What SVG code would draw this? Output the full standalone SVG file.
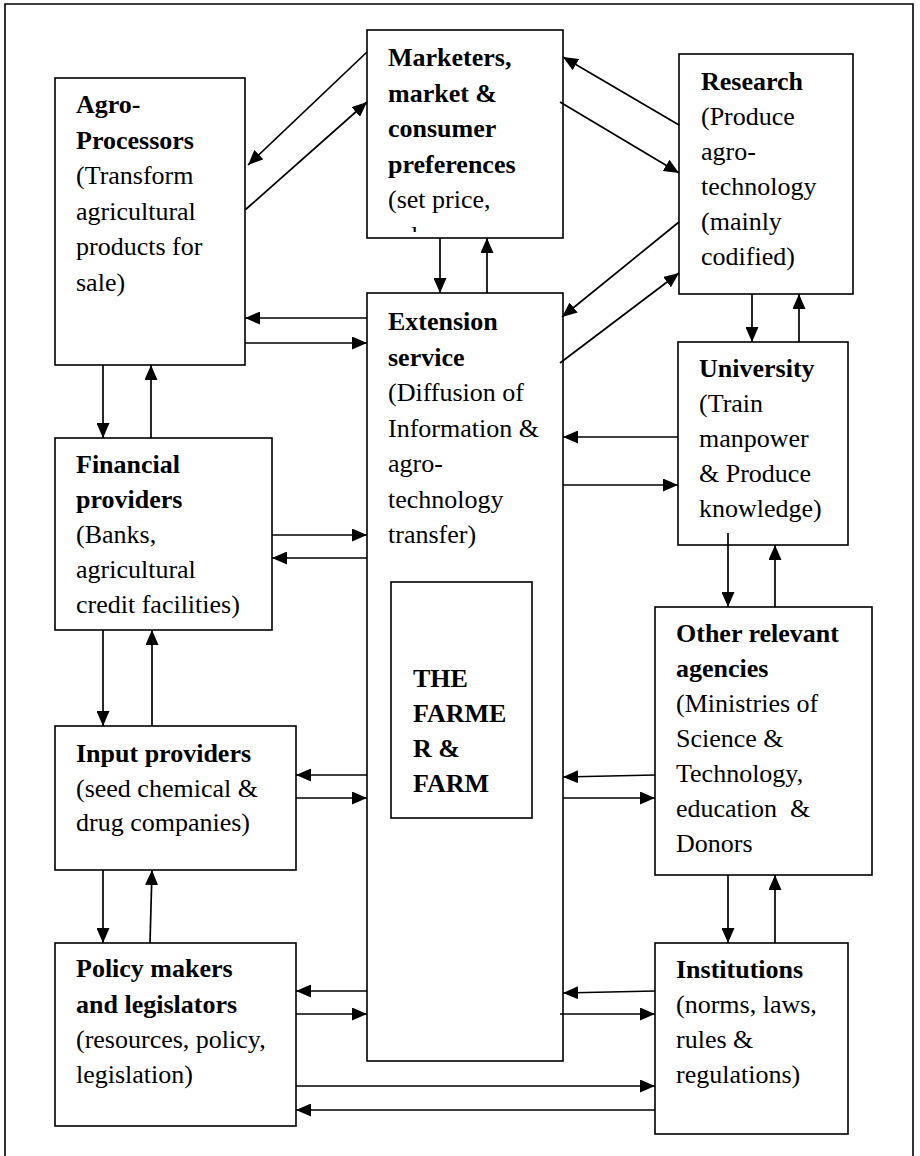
<svg xmlns="http://www.w3.org/2000/svg" width="920" height="1156" viewBox="0 0 920 1156">
<style>
.box{fill:#fff;stroke:#000;stroke-width:1.6}
.t{font-family:"Liberation Serif","Times New Roman",serif;font-size:26px;fill:#000}
.b{font-weight:bold}
.c{stroke:#000;stroke-width:1.7;fill:none;marker-end:url(#ah)}
.frame{stroke:#000;stroke-width:1.6;fill:none}
</style>
<defs>
<marker id="ah" viewBox="0 0 15 13" refX="15" refY="6.5" markerWidth="15" markerHeight="13" markerUnits="userSpaceOnUse" orient="auto">
<path d="M0,0 L15,6.5 L0,13 z" fill="#000"/>
</marker>
<clipPath id="mkclip"><rect x="368" y="31" width="194" height="201"/></clipPath>
</defs>
<rect width="920" height="1156" fill="#fff"/>
<path class="frame" d="M5,1160 V4 H913 V1160"/>

<g id="marketers">
<rect class="box" x="367" y="30" width="196" height="208"/>
<g clip-path="url(#mkclip)">
<text class="t" x="388"><tspan class="b" x="388" y="66">Marketers,</tspan><tspan class="b" x="388" y="101.5">market &amp;</tspan><tspan class="b" x="388" y="137">consumer</tspan><tspan class="b" x="388" y="172.5">preferences</tspan><tspan x="388" y="208">(set price,</tspan><tspan x="380" y="243.5">and</tspan></text>
</g>
</g>

<g id="agro">
<rect class="box" x="55" y="78" width="190" height="287"/>
<text class="t" x="76"><tspan class="b" x="76" y="113">Agro-</tspan><tspan class="b" x="76" y="148.5">Processors</tspan><tspan x="76" y="184">(Transform</tspan><tspan x="76" y="219.5">agricultural</tspan><tspan x="76" y="255">products for</tspan><tspan x="76" y="290.5">sale)</tspan></text>
</g>

<g id="research">
<rect class="box" x="679" y="54" width="174" height="240"/>
<text class="t" x="701"><tspan class="b" x="701" y="90">Research</tspan><tspan x="701" y="125">(Produce</tspan><tspan x="701" y="160">agro-</tspan><tspan x="701" y="195">technology</tspan><tspan x="701" y="230">(mainly</tspan><tspan x="701" y="265">codified)</tspan></text>
</g>

<g id="extension">
<rect class="box" x="367" y="293" width="196" height="768"/>
<text class="t" x="388"><tspan class="b" x="388" y="330">Extension</tspan><tspan class="b" x="388" y="365.5">service</tspan><tspan x="388" y="401">(Diffusion of</tspan><tspan x="388" y="436.5">Information &amp;</tspan><tspan x="388" y="472">agro-</tspan><tspan x="388" y="507.5">technology</tspan><tspan x="388" y="543">transfer)</tspan></text>
</g>

<g id="farmer">
<rect class="box" x="391" y="582" width="141" height="236"/>
<text class="t b" x="413"><tspan x="413" y="687">THE</tspan><tspan x="413" y="722">FARME</tspan><tspan x="413" y="757">R &amp;</tspan><tspan x="413" y="792">FARM</tspan></text>
</g>

<g id="university">
<rect class="box" x="678" y="342" width="170" height="203"/>
<text class="t" x="699"><tspan class="b" x="699" y="377">University</tspan><tspan x="699" y="412">(Train</tspan><tspan x="699" y="447">manpower</tspan><tspan x="699" y="482">&amp; Produce</tspan><tspan x="699" y="517">knowledge)</tspan></text>
</g>

<g id="financial">
<rect class="box" x="55" y="438" width="217" height="192"/>
<text class="t" x="76"><tspan class="b" x="76" y="473">Financial</tspan><tspan class="b" x="76" y="508">providers</tspan><tspan x="76" y="543">(Banks,</tspan><tspan x="76" y="578">agricultural</tspan><tspan x="76" y="613">credit facilities)</tspan></text>
</g>

<g id="input">
<rect class="box" x="55" y="726" width="241" height="144"/>
<text class="t" x="76"><tspan class="b" x="76" y="762">Input providers</tspan><tspan x="76" y="797">(seed chemical &amp;</tspan><tspan x="76" y="831">drug companies)</tspan></text>
</g>

<g id="policy">
<rect class="box" x="55" y="943" width="241" height="183"/>
<text class="t" x="76"><tspan class="b" x="76" y="977">Policy makers</tspan><tspan class="b" x="76" y="1013">and legislators</tspan><tspan x="76" y="1048">(resources, policy,</tspan><tspan x="76" y="1083">legislation)</tspan></text>
</g>

<g id="other">
<rect class="box" x="655" y="607" width="217" height="268"/>
<text class="t" x="676"><tspan class="b" x="676" y="642">Other relevant</tspan><tspan class="b" x="676" y="677">agencies</tspan><tspan x="676" y="712">(Ministries of</tspan><tspan x="676" y="747">Science &amp;</tspan><tspan x="676" y="782">Technology,</tspan><tspan x="676" y="817" xml:space="preserve">education  &amp;</tspan><tspan x="676" y="852">Donors</tspan></text>
</g>

<g id="institutions">
<rect class="box" x="655" y="943" width="193" height="191"/>
<text class="t" x="676"><tspan class="b" x="676" y="978">Institutions</tspan><tspan x="676" y="1013">(norms, laws,</tspan><tspan x="676" y="1048">rules &amp;</tspan><tspan x="676" y="1083">regulations)</tspan></text>
</g>

<g id="connectors">
<line class="c" x1="367" y1="52" x2="248" y2="165"/>
<line class="c" x1="245" y1="210" x2="367" y2="102"/>
<line class="c" x1="679" y1="125" x2="563" y2="57"/>
<line class="c" x1="560" y1="102" x2="679" y2="173"/>
<line class="c" x1="679" y1="222" x2="562" y2="317"/>
<line class="c" x1="560" y1="363" x2="679" y2="273"/>
<line class="c" x1="440" y1="238" x2="440" y2="293"/>
<line class="c" x1="487" y1="293" x2="487" y2="238"/>
<line class="c" x1="367" y1="318" x2="245" y2="318"/>
<line class="c" x1="245" y1="343" x2="367" y2="343"/>
<line class="c" x1="103" y1="365" x2="103" y2="438"/>
<line class="c" x1="151" y1="438" x2="151" y2="365"/>
<line class="c" x1="272" y1="535" x2="367" y2="535"/>
<line class="c" x1="367" y1="558" x2="272" y2="558"/>
<line class="c" x1="103" y1="630" x2="103" y2="726"/>
<line class="c" x1="152" y1="726" x2="152" y2="630"/>
<line class="c" x1="367" y1="775" x2="296" y2="775"/>
<line class="c" x1="296" y1="798" x2="367" y2="798"/>
<line class="c" x1="103" y1="870" x2="103" y2="943"/>
<line class="c" x1="150" y1="943" x2="152" y2="870"/>
<line class="c" x1="367" y1="991" x2="296" y2="991"/>
<line class="c" x1="296" y1="1014" x2="367" y2="1014"/>
<line class="c" x1="296" y1="1086" x2="655" y2="1086"/>
<line class="c" x1="655" y1="1110" x2="296" y2="1110"/>
<line class="c" x1="752" y1="294" x2="752" y2="342"/>
<line class="c" x1="799" y1="342" x2="799" y2="294"/>
<line class="c" x1="678" y1="437" x2="563" y2="437"/>
<line class="c" x1="563" y1="485" x2="678" y2="485"/>
<line class="c" x1="728" y1="533" x2="728" y2="607"/>
<line class="c" x1="775" y1="607" x2="775" y2="545"/>
<line class="c" x1="655" y1="775" x2="563" y2="777"/>
<line class="c" x1="563" y1="798" x2="655" y2="798"/>
<line class="c" x1="728" y1="875" x2="728" y2="943"/>
<line class="c" x1="775" y1="943" x2="775" y2="875"/>
<line class="c" x1="655" y1="991" x2="563" y2="993"/>
<line class="c" x1="560" y1="1014" x2="655" y2="1014"/>
</g>
</svg>
